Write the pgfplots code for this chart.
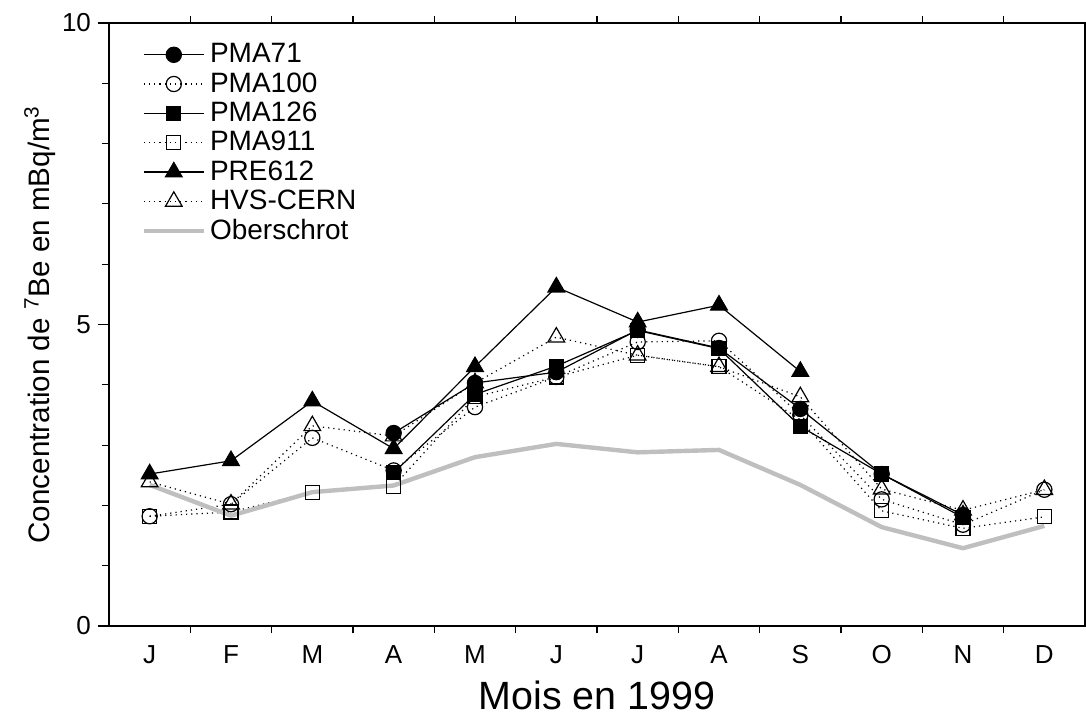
\documentclass[border=0pt]{standalone}
\usepackage{fontspec}
\setmainfont{Liberation Sans}
\usepackage{pgfplots}
\pgfplotsset{compat=1.18}
\begin{document}
\begin{tikzpicture}
\begin{axis}[
  name=ax,
  width=488pt, height=301.5pt, scale only axis,
  xmin=-0.5, xmax=11.5, ymin=0, ymax=10,
  xtick={0,...,11},
  xticklabels={J,F,M,A,M,J,J,A,S,O,N,D},
  minor xtick={0.5,1.5,...,10.5},
  ytick={0,5,10},
  minor ytick={1,2,3,4,6,7,8,9},
  ytick pos=left,
  tick align=outside,
  major tick length=5.5pt,
  minor tick length=3.5pt,
  major x tick style={draw=none},
  tick style={black, line width=0.6pt},
  axis line style={line width=0.7pt},
  /pgf/number format/assume math mode=true,
  tick label style={font=\fontsize{13}{14}\selectfont},
  x tick label style={text height=9.5pt, text depth=0pt},
  xlabel={Mois en 1999},
  ylabel={Concentration de \textsuperscript{7}Be en mBq/m\textsuperscript{3}},
  xlabel style={font=\fontsize{19.7}{22}\selectfont, at={(axis description cs:0.5,0)}, anchor=center, yshift=-34.5pt},
  ylabel style={font=\fontsize{14.8}{16}\selectfont, at={(axis description cs:-0.071,0.5)}, anchor=center},
  unbounded coords=jump,
  legend cell align=left,
  legend style={draw=none, fill=none, at={(axis description cs:0.033,0.973)}, anchor=north west,
    font=\fontsize{14}{14}\selectfont, row sep=-0.6pt, inner sep=0pt},
  legend image code/.code={\draw[mark repeat=2,mark phase=2] plot coordinates {(0pt,0pt)(15pt,0pt)(30pt,0pt)};},
  every axis plot/.append style={line width=0.6pt},
]
% PMA71
\addplot[black, solid, mark=*, mark size=3.8pt, mark options={solid, fill=black}] coordinates {
(3,3.20)(4,4.03)(5,4.21)(6,4.91)(7,4.61)(8,3.60)(9,2.52)(10,1.84)};
\addlegendentry{PMA71}
% PMA100
\addplot[black, dotted, mark=o, mark size=3.8pt, mark options={solid, fill=white}] coordinates {
(0,1.82)(1,2.02)(2,3.12)(3,2.58)(4,3.63)(5,4.13)(6,4.71)(7,4.73)(8,3.50)(9,2.10)(10,1.68)(11,2.26)};
\addlegendentry{PMA100}
% PMA126
\addplot[black, solid, mark=square*, mark size=3.5pt, mark options={solid, fill=black}] coordinates {
(3,2.54)(4,3.84)(5,4.31)(6,4.90)(7,4.60)(8,3.31)(9,2.52)(10,1.80)};
\addlegendentry{PMA126}
% PMA911
\addplot[black, dotted, mark=square, mark size=3.5pt, mark options={solid, fill=white}] coordinates {
(0,1.82)(1,1.89)(2,2.22)(3,2.32)(4,3.80)(5,4.13)(6,4.49)(7,4.30)(8,3.42)(9,1.91)(10,1.62)(11,1.81)};
\addlegendentry{PMA911}
% PRE612
\addplot[black, solid, mark=triangle*, mark size=4.8pt, mark options={solid, fill=black}] coordinates {
(0,2.52)(1,2.74)(2,3.73)(3,2.94)(4,4.30)(5,5.62)(6,5.04)(7,5.32)(8,4.22)(9,nan)(10,1.84)};
\addlegendentry{PRE612}
% HVS-CERN
\addplot[black, dotted, mark=triangle, mark size=4.8pt, mark options={solid, fill=white}] coordinates {
(0,2.39)(1,2.02)(2,3.32)(3,3.15)(4,4.03)(5,4.79)(6,4.49)(7,4.30)(8,3.80)(9,2.27)(10,1.92)(11,2.26)};
\addlegendentry{HVS-CERN}
% Oberschrot
\addplot[gray!50, line width=2.2pt, no markers] coordinates {
(0,2.34)(1,1.83)(2,2.22)(3,2.33)(4,2.80)(5,3.02)(6,2.88)(7,2.92)(8,2.34)(9,1.64)(10,1.29)(11,1.66)};
\addlegendentry{Oberschrot}
\coordinate (sw) at (rel axis cs:0,0);
\coordinate (ne) at (rel axis cs:1,1);
\end{axis}
\pgfresetboundingbox
\path[use as bounding box] ([xshift=-54.5pt,yshift=-46pt]sw) rectangle ([xshift=0.5pt,yshift=11.5pt]ne);
\end{tikzpicture}
\end{document}
